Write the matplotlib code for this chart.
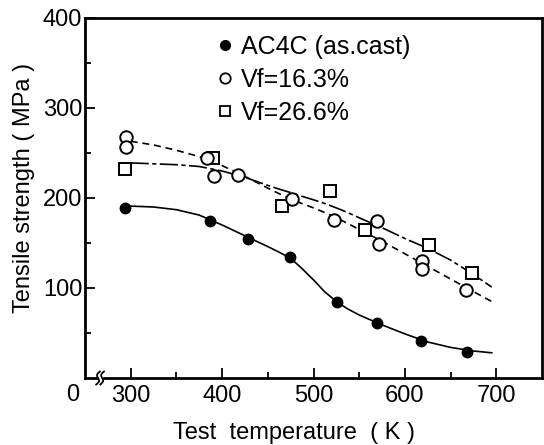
import numpy as np
import matplotlib
matplotlib.use('Agg')
import matplotlib.pyplot as plt
from matplotlib.lines import Line2D
from matplotlib.patches import Rectangle

# measured points
temp_ac4c = [294, 387, 428, 474, 526, 570, 618, 668]
ts_ac4c = [189, 174, 155, 134, 84, 61, 41, 29]

temp_v163 = [295, 295, 383, 391, 417, 476, 522, 570, 572, 619, 619, 667]
ts_v163 = [268, 257, 245, 225, 226, 199, 176, 174, 149, 130, 121, 98]

temp_v266 = [294, 390, 466, 518, 556, 626, 673]
ts_v266 = [232, 244, 191, 208, 164, 148, 117]

# hand-drawn trend curves
curve_t = [300, 325, 350, 375, 400, 425, 450, 462, 475, 487, 500, 512, 525, 537, 550,
           575, 600, 625, 650, 675, 695]
fit_ac4c = [191, 190, 187, 181, 170, 158, 146, 140, 133, 122, 109, 96, 85, 77, 70,
            59, 49, 40, 34, 30, 28]
fit_v163 = [263, 259, 253, 246, 236, 224, 211, 205, 199, 194, 189, 184, 178, 172, 165,
            152, 138, 124, 110, 96, 85]
fit_v266 = [239, 238, 237, 235, 230, 223, 214, 210, 206, 202, 198, 194, 189, 184, 178,
            167, 155, 144, 131, 115, 101]

labels = ['AC4C (as.cast)', 'Vf=16.3%', 'Vf=26.6%']
x_ticks = [300, 400, 500, 600, 700]
y_ticks = [100, 200, 300, 400]

plt.rcParams['font.family'] = ['Liberation Sans', 'DejaVu Sans']
plt.rcParams['lines.scale_dashes'] = False

fig = plt.figure(figsize=(5.44, 4.45), dpi=100)
ax = fig.add_axes([85 / 544, 1 - 378 / 445, 457 / 544, 360 / 445])

ax.plot(curve_t, fit_ac4c, color='k', lw=1.2)
ax.plot(curve_t, fit_v163, color='k', lw=1.2, dashes=(5, 3.5))
ax.plot(curve_t, fit_v266, color='k', lw=1.2, dashes=(13, 2.5, 3, 2.5))

ax.plot(temp_ac4c, ts_ac4c, 'o', ms=7.5, mfc='k', mec='k', ls='none')
ax.plot(temp_v266, ts_v266, 's', ms=8.5, mfc='white', mec='k', mew=1.4, ls='none')
ax.plot(temp_v163, ts_v163, 'o', ms=9, mfc='white', mec='k', mew=1.4, ls='none')

ax.set_xlim(250, 750)
ax.set_ylim(0, 400)
ax.set_xticks(x_ticks)
ax.set_xticks([350, 450, 550, 650], minor=True)
ax.set_yticks(y_ticks)
ax.set_yticks([50, 150, 250, 350], minor=True)
ax.tick_params(which='both', direction='in', width=1.3, labelsize=17)
ax.tick_params(which='major', length=7)
ax.tick_params(which='minor', length=4.5)
ax.tick_params(axis='y', pad=2)
ax.tick_params(axis='x', pad=5)
for s in ax.spines.values():
    s.set_linewidth(2)

ax.text(-0.028, -0.047, '0', transform=ax.transAxes, ha='center', va='center', fontsize=17)

ax.set_ylabel('Tensile strength ( MPa )', fontsize=17)
ax.yaxis.set_label_coords(-0.11, 0.528)
ax.set_xlabel('Test  temperature  ( K )', fontsize=17)
ax.xaxis.set_label_coords(0.457, -0.122)

# axis break on the bottom spine
bx = 0.033
ax.add_patch(Rectangle((bx - 0.004, -0.01), 0.008, 0.02, transform=ax.transAxes,
                       color='white', clip_on=False, zorder=5))
tt = np.linspace(-1, 1, 30)
for off in (-0.0045, 0.0045):
    ax.plot(bx + off + 0.004 * np.sin(np.pi * tt) - 0.004 * tt, -0.018 * tt,
            transform=ax.transAxes, color='k', lw=1.3, clip_on=False, zorder=6)

handles = [
    Line2D([], [], marker='o', ls='none', ms=7, mfc='k', mec='k'),
    Line2D([], [], marker='o', ls='none', ms=7.5, mfc='white', mec='k', mew=1.3),
    Line2D([], [], marker='s', ls='none', ms=7, mfc='white', mec='k', mew=1.3),
]
ax.legend(handles, labels, loc='upper left', bbox_to_anchor=(0.284, 0.953),
          frameon=False, fontsize=18, handlelength=0.8, handletextpad=0.25,
          labelspacing=0.36, borderpad=0, borderaxespad=0)

fig.savefig('out.png', dpi=100)
